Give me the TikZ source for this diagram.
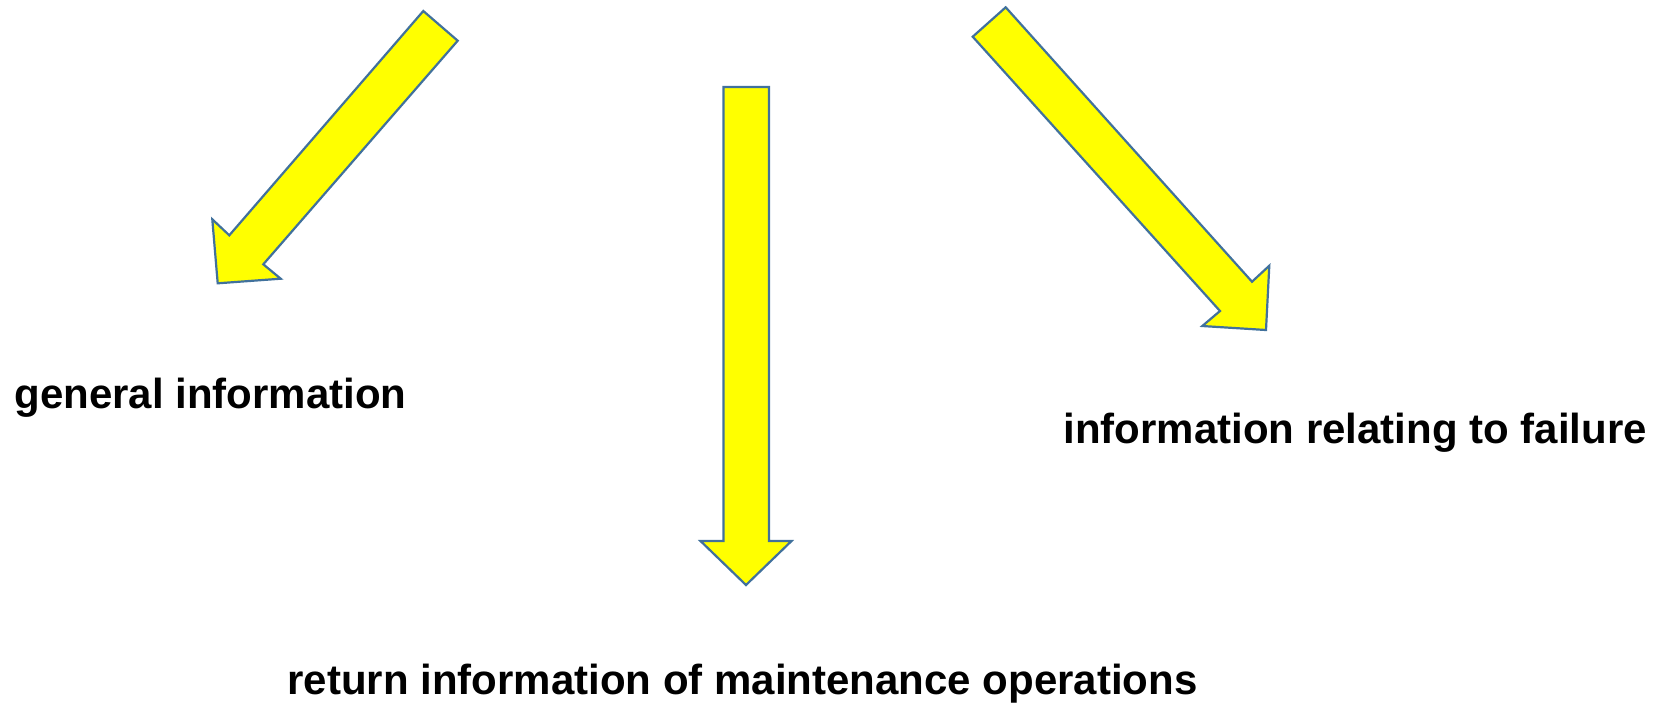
\documentclass[tikz,border=0pt]{standalone}
\usepackage{fontspec}
\setmainfont{Liberation Sans}
\begin{document}
\begin{tikzpicture}[x=0.5pt,y=-0.5pt,
  blockarrow/.style={fill={rgb,255:red,255;green,255;blue,0},draw={rgb,255:red,65;green,113;blue,156},line width=1.1pt,line join=miter},
  caption/.style={anchor=base west,inner sep=0pt,font=\fontsize{21pt}{25pt}\selectfont\bfseries}]
\useasboundingbox (0,0) rectangle (1661,709);

% block arrow pointing down-left
\draw[blockarrow] (423.3,11) -- (457.7,40.7) -- (263.3,264.3) -- (280.7,278.7)
  -- (217.7,283.3) -- (212.3,219.3) -- (229.3,235.3) -- cycle;

% block arrow pointing straight down
\draw[blockarrow] (723.5,87) -- (769,87) -- (769,541) -- (791.5,541)
  -- (746,585) -- (700.5,541) -- (723.5,541) -- cycle;

% block arrow pointing down-right
\draw[blockarrow] (1005.7,7.3) -- (972.7,36.7) -- (1220,311) -- (1202.3,326)
  -- (1266,330) -- (1269.3,265.7) -- (1252,281.7) -- cycle;

\node[caption] (general) at (14,408) {general information};
\node[caption] (failure) at (1063,443) {information relating to failure};
\node[caption] (maint) at (287,694) {return information of maintenance operations};
\end{tikzpicture}
\end{document}
